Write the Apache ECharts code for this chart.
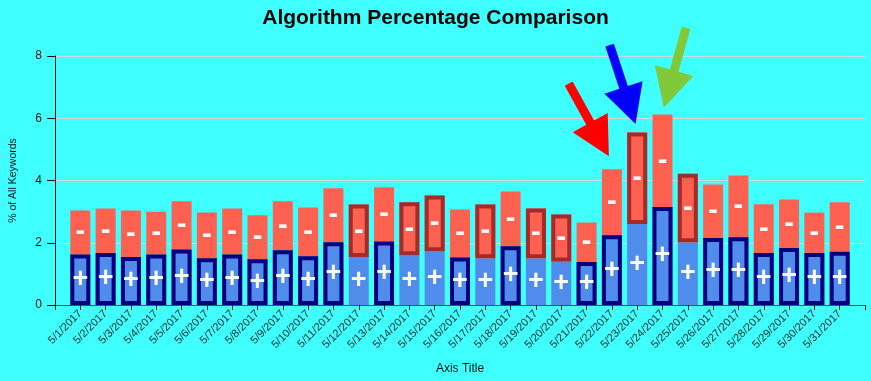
<!DOCTYPE html>
<html><head><meta charset="utf-8">
<script src="https://cdn.jsdelivr.net/npm/echarts@6/dist/echarts.min.js"></script>
<style>html,body{margin:0;padding:0;background:#40FFFF;}#c{width:871px;height:381px;}</style>
</head><body><div id="c"></div>
<script>
// ---- data ----
const dates = ['5/1/2017','5/2/2017','5/3/2017','5/4/2017','5/5/2017','5/6/2017','5/7/2017','5/8/2017','5/9/2017','5/10/2017','5/11/2017','5/12/2017','5/13/2017','5/14/2017','5/15/2017','5/16/2017','5/17/2017','5/18/2017','5/19/2017','5/20/2017','5/21/2017','5/22/2017','5/23/2017','5/24/2017','5/25/2017','5/26/2017','5/27/2017','5/28/2017','5/29/2017','5/30/2017','5/31/2017'];
const positive = [1.62,1.67,1.54,1.62,1.78,1.50,1.62,1.47,1.76,1.57,2.02,1.54,2.04,1.60,1.73,1.53,1.50,1.89,1.50,1.40,1.38,2.24,2.60,3.15,2.02,2.15,2.18,1.67,1.83,1.67,1.71];
const negative = [1.42,1.43,1.50,1.38,1.55,1.47,1.48,1.41,1.57,1.56,1.73,1.69,1.74,1.70,1.79,1.54,1.73,1.76,1.60,1.51,1.27,2.12,2.94,2.97,2.20,1.72,1.98,1.57,1.56,1.30,1.59];
const outlined = ['pos','pos','pos','pos','pos','pos','pos','pos','pos','pos','pos','neg','pos','neg','neg','pos','neg','pos','neg','neg','pos','pos','neg','pos','neg','pos','pos','pos','pos','pos','pos'];
const yTicks = [0, 2, 4, 6, 8];
const arrowDates = ['5/22/2017', '5/23/2017', '5/24/2017'];

// ---- styles ----
const POS_COLOR = '#4F8CEC', NEG_COLOR = '#FF6150';
const POS_BORDER = '#00007F', NEG_BORDER = '#A52A2A';
const BAR_W = 20, BORDER_W = 4;
const arrowStyles = [
  {color:'#FF0000', dir:[41,74], off:[-3,-13]},
  {color:'#0000FF', dir:[26,79], off:[-1.6,-8.6]},
  {color:'#7FC93A', dir:[-22,79], off:[1.3,-6.8]}
];

const categories = [''].concat(dates, ['']);
const seriesData = dates.map((d, i) => [i + 1, positive[i], negative[i], outlined[i] === 'pos' ? 0 : 1]);

const chart = echarts.init(document.getElementById('c'));
chart.setOption({
  backgroundColor: '#40FFFF',
  animation: false,
  title: {
    text: 'Algorithm Percentage Comparison', left: 'center', top: 3,
    textStyle: {fontFamily: 'Liberation Sans, Arial, sans-serif', fontSize: 21, fontWeight: 'bold', color: '#000'}
  },
  grid: {left: 53, right: 6, top: 56, bottom: 76},
  xAxis: {
    type: 'category', data: categories, boundaryGap: false,
    name: 'Axis Title', nameLocation: 'middle', nameGap: 58,
    nameTextStyle: {fontFamily: 'Liberation Sans, Arial, sans-serif', fontSize: 12, color: '#111'},
    axisLine: {lineStyle: {color: '#2F5F5F', width: 1}},
    axisTick: {show: true, length: 5, interval: 0, lineStyle: {color: '#1a1a1a'}},
    axisLabel: {interval: 0, rotate: 45, margin: 7, fontFamily: 'Liberation Sans, Arial, sans-serif', fontSize: 11, color: '#1a2a2a'},
    splitLine: {show: false}
  },
  yAxis: {
    type: 'value', min: yTicks[0], max: yTicks[yTicks.length - 1], interval: yTicks[1] - yTicks[0],
    name: '% of All Keywords', nameLocation: 'middle', nameGap: 36,
    nameTextStyle: {fontFamily: 'Liberation Sans, Arial, sans-serif', fontSize: 10.5, color: '#111'},
    axisLine: {show: true, lineStyle: {color: '#111', width: 1}},
    axisTick: {show: true, length: 8, lineStyle: {color: '#111'}},
    axisLabel: {margin: 13, fontFamily: 'Liberation Sans, Arial, sans-serif', fontSize: 12, color: '#111'},
    splitLine: {show: true, lineStyle: {color: '#D6D6D6', width: 1}}
  },
  series: [{
    type: 'custom',
    data: seriesData,
    encode: {x: 0, y: [1, 2]},
    renderItem: function (params, api) {
      const x = api.value(0), p = api.value(1), n = api.value(2), flag = api.value(3);
      const base = api.coord([x, 0]);
      const mid = api.coord([x, p]);
      const top = api.coord([x, p + n]);
      const left = base[0] - BAR_W / 2;
      const hb = BORDER_W / 2;
      const children = [
        {type: 'rect', shape: {x: left, y: mid[1], width: BAR_W, height: base[1] - mid[1]}, style: {fill: POS_COLOR}},
        {type: 'rect', shape: {x: left, y: top[1], width: BAR_W, height: mid[1] - top[1]}, style: {fill: NEG_COLOR}}
      ];
      if (flag === 0) {
        children.push({type: 'rect', shape: {x: left + hb, y: mid[1] + hb, width: BAR_W - BORDER_W, height: base[1] - mid[1] - BORDER_W}, style: {fill: 'none', stroke: POS_BORDER, lineWidth: BORDER_W}});
      } else {
        children.push({type: 'rect', shape: {x: left + hb, y: top[1] + hb, width: BAR_W - BORDER_W, height: mid[1] - top[1] - BORDER_W}, style: {fill: 'none', stroke: NEG_BORDER, lineWidth: BORDER_W}});
      }
      children.push({type: 'text', style: {text: '+', x: base[0], y: (base[1] + mid[1]) / 2, fill: '#fff', fontSize: 27, fontWeight: 'bold', fontFamily: 'Liberation Sans, Arial, sans-serif', align: 'center', verticalAlign: 'middle'}});
      children.push({type: 'text', style: {text: '-', x: base[0], y: (mid[1] + top[1]) / 2, fill: '#fff', fontSize: 29, fontWeight: 'bold', fontFamily: 'Liberation Sans, Arial, sans-serif', align: 'center', verticalAlign: 'middle'}});
      return {type: 'group', children: children};
    }
  }]
});

// ---- annotation arrows pointing at the peak bars ----
const L = 83, SW = 9, HW = 40, HL = 38.5;
const graphics = arrowDates.map((d, k) => {
  const i = dates.indexOf(d);
  const pt = chart.convertToPixel({xAxisIndex: 0, yAxisIndex: 0}, [i + 1, positive[i] + negative[i]]);
  const st = arrowStyles[k];
  const len = Math.hypot(st.dir[0], st.dir[1]);
  const u = [st.dir[0] / len, st.dir[1] / len];
  const nrm = [-u[1], u[0]];
  const T = [pt[0] + st.off[0], pt[1] + st.off[1]];
  const B = [T[0] - u[0] * HL, T[1] - u[1] * HL];
  const S = [T[0] - u[0] * L, T[1] - u[1] * L];
  const P = (o, s) => [o[0] + nrm[0] * s, o[1] + nrm[1] * s];
  return {type: 'polygon', z: 100, shape: {points: [P(S, SW / 2), P(B, SW / 2), P(B, HW / 2), T, P(B, -HW / 2), P(B, -SW / 2), P(S, -SW / 2)]}, style: {fill: st.color}};
});
chart.setOption({graphic: graphics});
</script></body></html>
